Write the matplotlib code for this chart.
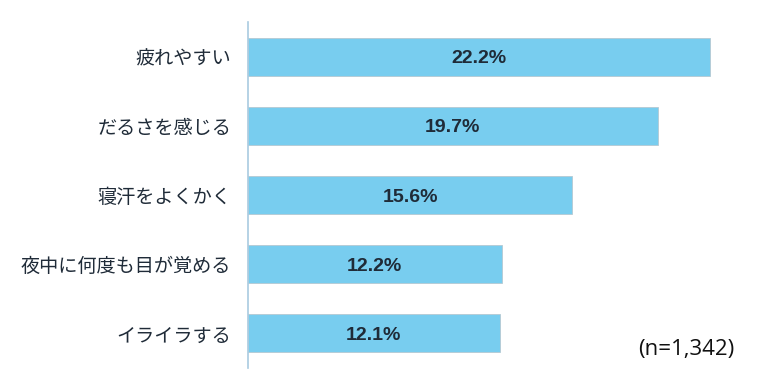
import matplotlib
matplotlib.use("Agg")
import matplotlib.pyplot as plt

plt.rcParams['font.family'] = ['Noto Sans CJK JP', 'DejaVu Sans']

categories = ["疲れやすい", "だるさを感じる", "寝汗をよくかく", "夜中に何度も目が覚める", "イライラする"]
values = [22.2, 19.7, 15.6, 12.2, 12.1]
note = "(n=1,342)"

fig = plt.figure(figsize=(7.68, 3.84), dpi=100)
ax = fig.add_axes([248 / 768, 16 / 384, 499 / 768, 346 / 384])

ypos = list(range(len(categories)))
ax.barh(ypos, values, height=0.55, color="#78CDEF", edgecolor="#B5C9D3", linewidth=0.6)
for y, v in zip(ypos, values):
    ax.text(v / 2, y + 0.03, "{:.1f}%".format(v), ha="center", va="center",
            fontsize=14, fontweight="bold", color="#1F2B38", family="Liberation Sans")

ax.set_xlim(0, 24)
ax.set_ylim(len(categories) - 0.5, -0.5)
ax.set_yticks(ypos)
ax.set_yticklabels(categories, fontsize=13.8, color="#1F2B38")
ax.set_xticks([])
ax.tick_params(axis="y", length=0, pad=12)
for s in ["top", "right", "bottom"]:
    ax.spines[s].set_visible(False)
ax.spines["left"].set_color("#A9CBE0")
ax.spines["left"].set_linewidth(1.2)

fig.text(734 / 768, 1 - 350 / 384, note, ha="right", va="center", fontsize=16,
         family="Open Sans", color="#111111")

fig.savefig("out.png", dpi=100)
